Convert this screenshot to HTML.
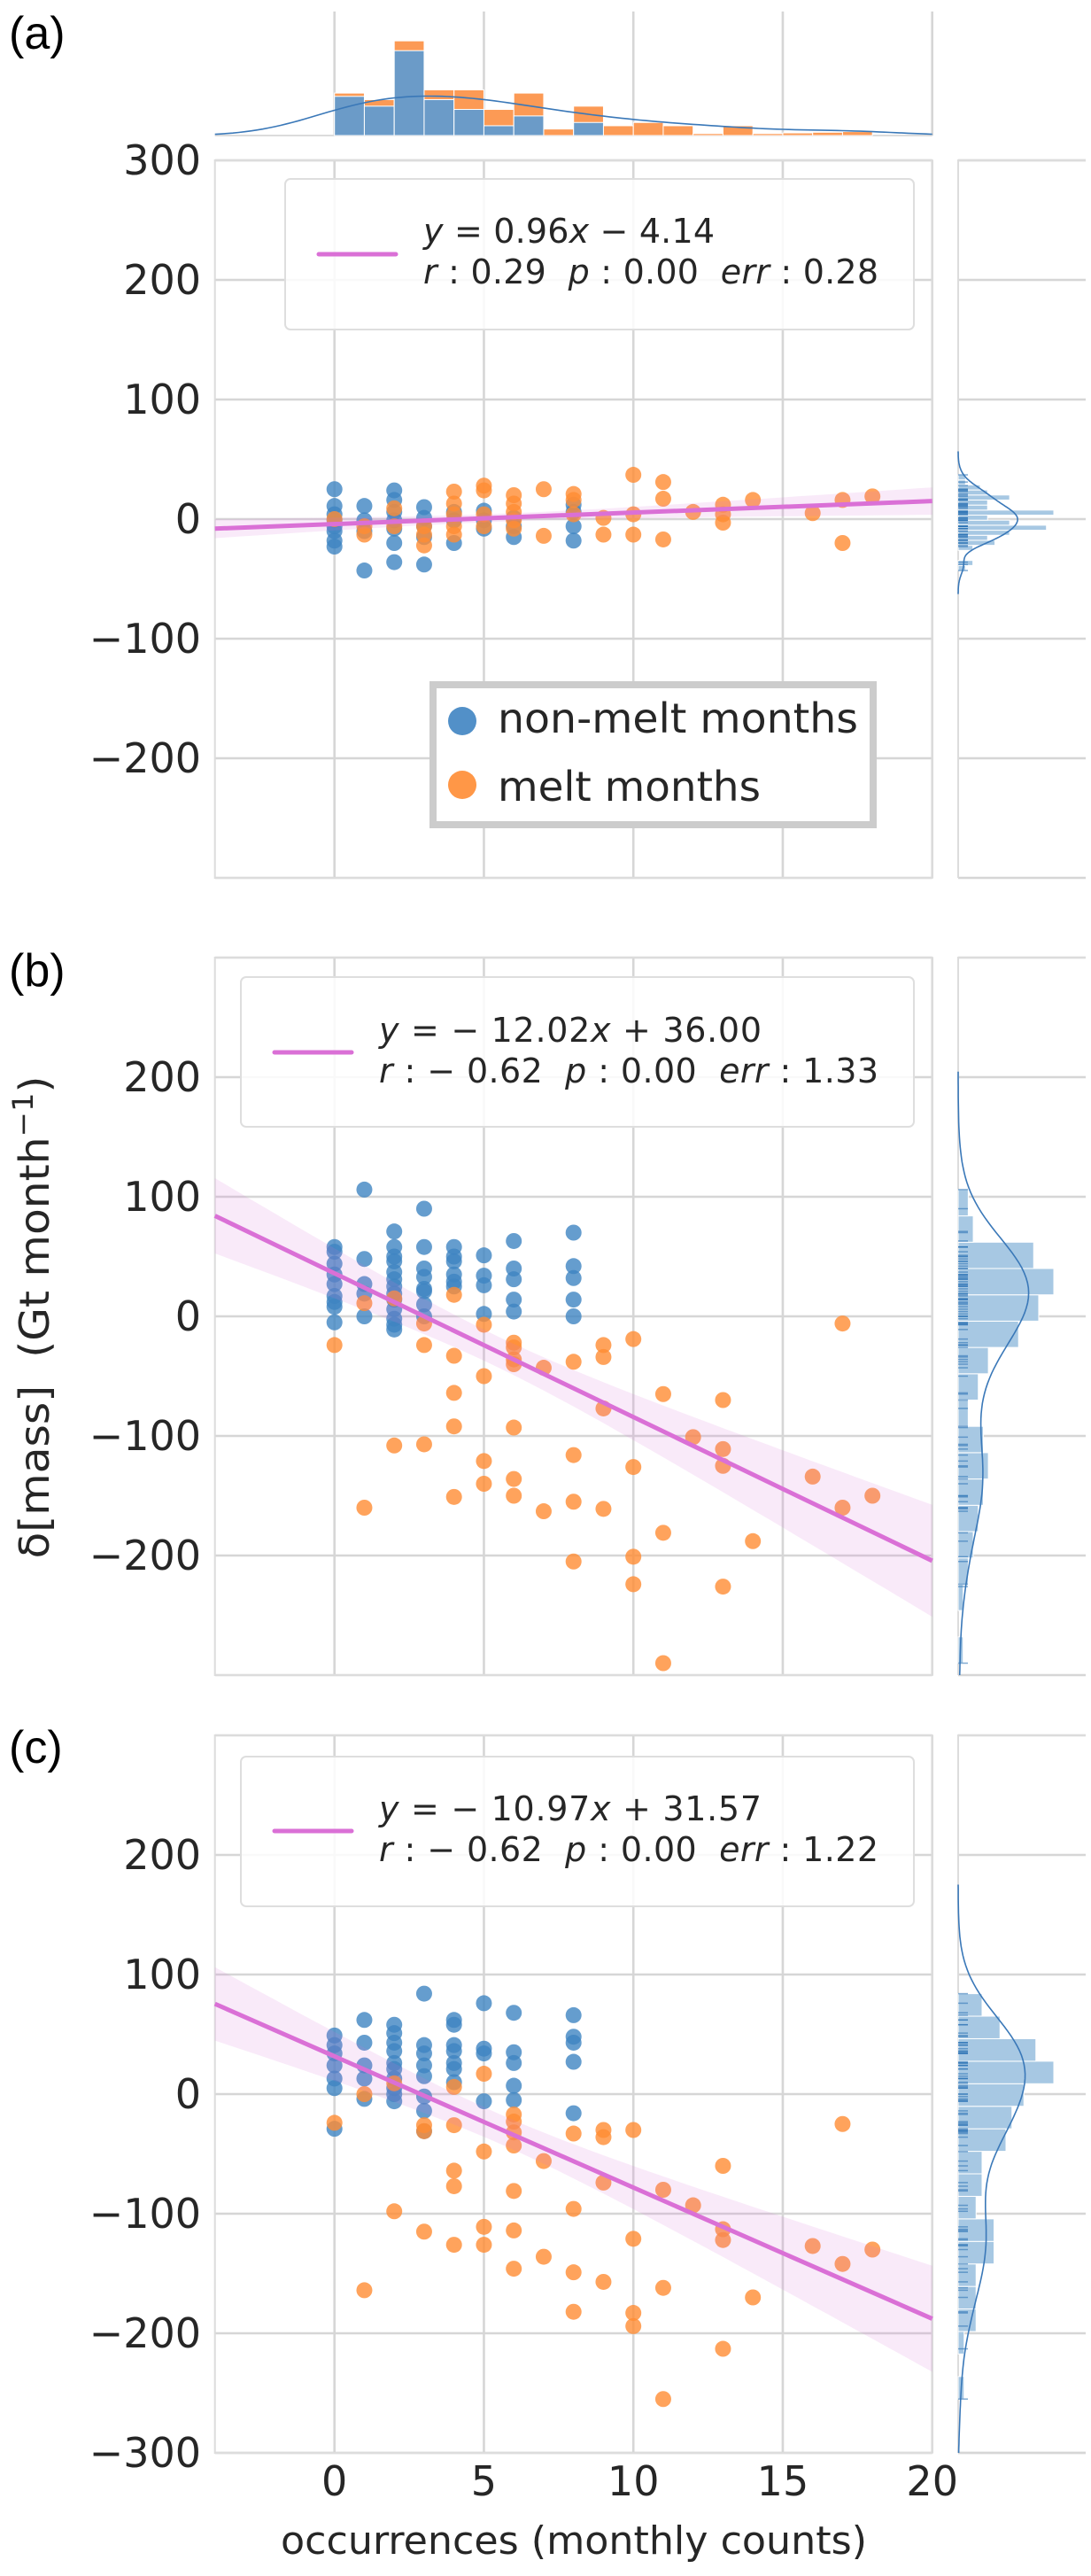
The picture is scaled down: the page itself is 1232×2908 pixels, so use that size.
<!DOCTYPE html>
<html><head><meta charset="utf-8"><style>
html,body{margin:0;padding:0;background:#fff;}
svg{display:block;font-family:"DejaVu Sans","Liberation Sans",sans-serif;}
</style></head><body>
<svg id="fig" width="1232" height="2908" viewBox="0 0 1232 2908" xmlns="http://www.w3.org/2000/svg">
<g id="layer-back"></g>
<g id="layer-marks"></g>
<g id="layer-legends">
  <g>
    <rect x="322" y="202" width="710" height="170" rx="6" fill="#fff" fill-opacity="0.85" stroke="#dedede" stroke-width="2"/>
    <line x1="360" y1="287" x2="447" y2="287" stroke="#da70d6" stroke-width="5" stroke-linecap="round"/>
    <text x="478" y="274" font-size="38" fill="#262626" textLength="329" lengthAdjust="spacing"><tspan font-style="italic">y</tspan> = 0.96<tspan font-style="italic">x</tspan> − 4.14</text>
    <text x="478" y="320" font-size="38" fill="#262626" textLength="514" lengthAdjust="spacing"><tspan font-style="italic">r</tspan> : 0.29 &#160;<tspan font-style="italic">p</tspan> : 0.00 &#160;<tspan font-style="italic">err</tspan> : 0.28</text>
  </g>
  <g>
    <rect x="489" y="773" width="497" height="158" fill="#fff" stroke="#cccccc" stroke-width="8"/>
    <circle cx="522" cy="814" r="16" fill="#3f84c2" fill-opacity="0.9"/>
    <circle cx="522" cy="886" r="16" fill="#ff8c33" fill-opacity="0.9"/>
    <text x="562" y="827" font-size="46" fill="#262626" textLength="407" lengthAdjust="spacingAndGlyphs">non-melt months</text>
    <text x="562" y="904" font-size="46" fill="#262626" textLength="297" lengthAdjust="spacingAndGlyphs">melt months</text>
  </g>
  <g>
    <rect x="272" y="1103" width="760" height="169" rx="6" fill="#fff" fill-opacity="0.85" stroke="#dedede" stroke-width="2"/>
    <line x1="310" y1="1188" x2="397" y2="1188" stroke="#da70d6" stroke-width="5" stroke-linecap="round"/>
    <text x="428" y="1176" font-size="38" fill="#262626" textLength="432" lengthAdjust="spacing"><tspan font-style="italic">y</tspan> = − 12.02<tspan font-style="italic">x</tspan> + 36.00</text>
    <text x="428" y="1222" font-size="38" fill="#262626" textLength="564" lengthAdjust="spacing"><tspan font-style="italic">r</tspan> : − 0.62 &#160;<tspan font-style="italic">p</tspan> : 0.00 &#160;<tspan font-style="italic">err</tspan> : 1.33</text>
  </g>
  <g>
    <rect x="272" y="1983" width="760" height="169" rx="6" fill="#fff" fill-opacity="0.85" stroke="#dedede" stroke-width="2"/>
    <line x1="310" y1="2067" x2="397" y2="2067" stroke="#da70d6" stroke-width="5" stroke-linecap="round"/>
    <text x="428" y="2055" font-size="38" fill="#262626" textLength="432" lengthAdjust="spacing"><tspan font-style="italic">y</tspan> = − 10.97<tspan font-style="italic">x</tspan> + 31.57</text>
    <text x="428" y="2101" font-size="38" fill="#262626" textLength="564" lengthAdjust="spacing"><tspan font-style="italic">r</tspan> : − 0.62 &#160;<tspan font-style="italic">p</tspan> : 0.00 &#160;<tspan font-style="italic">err</tspan> : 1.22</text>
  </g>
</g>
<text x="10" y="55" font-family="Liberation Sans, sans-serif" font-size="52" fill="#000">(a)</text>
<text x="10" y="1113" font-family="Liberation Sans, sans-serif" font-size="52" fill="#000">(b)</text>
<text x="10" y="1990" font-family="Liberation Sans, sans-serif" font-size="52" fill="#000">(c)</text>
<text x="648" y="2883" text-anchor="middle" font-size="44" fill="#262626" textLength="662" lengthAdjust="spacingAndGlyphs">occurrences (monthly counts)</text>
<text transform="translate(55,1487) rotate(-90)" text-anchor="middle" font-size="46" fill="#262626" textLength="545" lengthAdjust="spacingAndGlyphs">δ[mass] &#160;(Gt month<tspan font-size="32" dy="-18">−1</tspan><tspan dy="18">)</tspan></text>
</svg>
<script>
// ---------- data ----------
const xTicks = [0, 5, 10, 15, 20];
const yTicksA = [300, 200, 100, 0, -100, -200];
const yTicksB = [200, 100, 0, -100, -200];
const yTicksC = [200, 100, 0, -100, -200, -300];

const blueXs = [0, 1, 2, 3, 4, 5, 6, 8];
const orangeXs = [0, 1, 2, 3, 4, 5, 6, 7, 8, 9, 10, 11, 12, 13, 14, 16, 17, 18];

const aBlueYs = [[25,11,4,-1,-6,-10,-18,-23],[11,-1,-10,-43],[24,16,6,-1,-8,-20,-36],[10,1,-6,-15,-38],[6,-1,-20],[7,-1,-8],[1,-6,-15],[12,6,-6,-18]];
const aOrangeYs = [[0],[-6,-13],[9,-6],[-6,-13,-22],[23,13,4,-6,-13],[28,24,4,-6],[20,13,6,-1,-8],[25,-14],[21,16,4],[1,-13],[37,4,-13],[31,17,-17],[6],[12,4,-3],[16],[5],[16,-20],[19]];

const bBlueYs = [[58,54,44,35,27,17,12,8,-5],[106,48,27,19,0],[71,58,50,46,37,31,25,19,14,6,-2,-7,-11],[90,58,40,33,23,21,10,0],[58,50,46,35,29,25],[51,34,26,2],[63,40,31,14,4],[70,42,32,14,0]];
const bOrangeYs = [[-24],[11,-160],[15,-108],[-6,-24,-107],[18,-33,-64,-92,-151],[-7,-50,-121,-140],[-22,-26,-36,-40,-93,-136,-150],[-43,-163],[-38,-116,-155,-205],[-24,-34,-77,-161],[-19,-126,-201,-224],[-65,-181,-290],[-101],[-70,-111,-125,-226],[-188],[-134],[-6,-160],[-150]];

const cBlueYs = [[49,41,34,24,13,5,-29],[62,43,24,13,-4],[58,51,43,36,26,21,13,5,0,-6],[84,41,34,24,15,-2,-14,-31],[62,58,41,36,26,21,10],[76,38,34,-6],[68,35,26,7,-5],[66,48,43,27,-16]];
const cOrangeYs = [[-24],[0,-164],[9,-98],[-26,-31,-115],[6,-26,-64,-77,-126],[17,-48,-111,-126],[-17,-23,-32,-43,-81,-114,-146],[-56,-136],[-33,-96,-149,-182],[-30,-36,-74,-157],[-30,-121,-183,-194],[-80,-162,-255],[-93],[-60,-113,-122,-213],[-170],[-127],[-25,-142],[-130]];

const regSlopes = [0.96, -12.02, -10.97];
const regIntercepts = [-4.14, 36.00, 31.57];

// top marginal histogram (bins of width 1 from 0 to 18)
const topBinStarts = [0,1,2,3,4,5,6,7,8,9,10,11,12,13,14,15,16,17];
const topAllCounts = [6.5,5.5,14.5,7,7,4,6.5,1,4.5,1.5,2,1.5,0.3,1.5,0.3,0.4,0.5,0.6];
const topNonMeltCounts = [6,4.5,13,5.5,4,1.5,3,0,2,0,0,0,0,0,0,0,0,0];

// ---------- layout ----------
const X0 = 377.7, XU = 33.75, XMIN = -4, XMAX = 20;
const sx = v => X0 + v * XU;
const YU = 1.35;
const panels = [
  {id:'a', zero:586, ticks:yTicksA, blue:aBlueYs, orange:aOrangeYs, bins:19},
  {id:'b', zero:1486, ticks:yTicksB, blue:bBlueYs, orange:bOrangeYs, bins:18},
  {id:'c', zero:2364, ticks:yTicksC, blue:cBlueYs, orange:cOrangeYs, bins:18}
];
const NS = 'http://www.w3.org/2000/svg';
const back = document.getElementById('layer-back');
const marks = document.getElementById('layer-marks');
function mk(tag, attrs, parent){
  const e = document.createElementNS(NS, tag);
  for (const k in attrs) e.setAttribute(k, attrs[k]);
  parent.appendChild(e);
  return e;
}
const GRID = '#d6d6d6', BORDER = '#dcdcdc';
const L = sx(XMIN), R = sx(XMAX);
const ML = 1082, MR = 1226;

function flatten(xs, ys){
  const px = [], py = [];
  ys.forEach((arr, i) => arr.forEach(v => { px.push(xs[i]); py.push(v); }));
  return [px, py];
}
function kde(vals, at, bw){
  let s = 0;
  for (const v of vals){ const z = (at - v) / bw; s += Math.exp(-0.5 * z * z); }
  return s / (vals.length * bw * Math.sqrt(2 * Math.PI));
}
function stdev(vals){
  const m = vals.reduce((a,b)=>a+b,0)/vals.length;
  return Math.sqrt(vals.reduce((a,b)=>a+(b-m)*(b-m),0)/(vals.length-1));
}

panels.forEach((p, pi) => {
  const sy = v => p.zero - v * YU;
  const top = sy(300), bot = sy(-300);
  // gridlines
  p.ticks.concat([300, -300]).forEach(t => {
    const g = mk('line', {x1:L, x2:R, y1:sy(t), y2:sy(t), stroke:GRID, 'stroke-width':2.6}, back);
    
    
    const g2 = mk('line', {x1:ML, x2:MR, y1:sy(t), y2:sy(t), stroke:GRID, 'stroke-width':2.6}, back);
    
    
  });
  xTicks.forEach(t => {
    const g = mk('line', {x1:sx(t), x2:sx(t), y1:top, y2:bot, stroke:GRID, 'stroke-width':2.6}, back);
    
    
  });
  const fr = mk('rect', {x:L, y:top, width:R-L, height:bot-top, fill:'none', stroke:BORDER, 'stroke-width':2}, back);
  
  
  const ml = mk('path', {d:`M${ML},${bot}V${top}H${MR}`, fill:'none', stroke:BORDER, 'stroke-width':2}, back);
  
  
  // y tick labels
  p.ticks.forEach(t => {
    const tx = mk('text', {x:227, y:sy(t)+16, 'text-anchor':'end', 'font-size':46, fill:'#262626'}, back);
    
    
    tx.textContent = t < 0 ? '\u2212' + Math.abs(t) : String(t);
  });

  // data
  const [bx, by] = flatten(blueXs, p.blue);
  const [ox, oy] = flatten(orangeXs, p.orange);
  const allX = bx.concat(ox), allY = by.concat(oy);

  // scatter
  bx.forEach((x, i) => {
    const c = mk('circle', {cx:sx(x), cy:sy(by[i]), r:9, fill:'#3f84c2', 'fill-opacity':0.8}, marks);
    
    
  });
  ox.forEach((x, i) => {
    const c = mk('circle', {cx:sx(x), cy:sy(oy[i]), r:9, fill:'#ff8c33', 'fill-opacity':0.8}, marks);
    
    
  });

  // regression band + line
  const m = regSlopes[pi], b0 = regIntercepts[pi];
  const n = allX.length;
  const xm = allX.reduce((a,b)=>a+b,0)/n;
  const sxx = allX.reduce((a,b)=>a+(b-xm)*(b-xm),0);
  const sres = Math.sqrt(allX.reduce((a,x,i)=>a+Math.pow(allY[i]-(m*x+b0),2),0)/(n-2));
  let up = '', lo = [];
  for (let k = 0; k <= 48; k++){
    const x = XMIN + (XMAX - XMIN) * k / 48;
    const h = 1.98 * sres * Math.sqrt(1/n + (x-xm)*(x-xm)/sxx);
    up += (k ? 'L' : 'M') + sx(x).toFixed(1) + ',' + sy(m*x+b0+h).toFixed(1);
    lo.unshift('L' + sx(x).toFixed(1) + ',' + sy(m*x+b0-h).toFixed(1));
  }
  const band = mk('path', {d: up + lo.join('') + 'Z', fill:'#da70d6', 'fill-opacity':0.15}, marks);
  
  
  const ln = mk('line', {x1:sx(XMIN), y1:sy(m*XMIN+b0), x2:sx(XMAX), y2:sy(m*XMAX+b0), stroke:'#da70d6', 'stroke-width':5}, marks);
  
  

  // right marginal histogram (density)
  const ymin = Math.min(...allY), ymax = Math.max(...allY);
  const bw = (ymax - ymin) / p.bins;
  const counts = new Array(p.bins).fill(0);
  allY.forEach(v => { let k = Math.floor((v - ymin) / bw); if (k >= p.bins) k = p.bins - 1; counts[k]++; });
  const dens = counts.map(c => c / (n * bw));
  const dmax = Math.max(...dens);
  const wScale = 108 / dmax;
  dens.forEach((d, k) => {
    if (d <= 0) return;
    const y1 = sy(ymin + (k+1)*bw), y2 = sy(ymin + k*bw);
    const r = mk('rect', {x:ML, y:y1, width:d*wScale, height:y2-y1, fill:'#a7c8e3', stroke:'#fff', 'stroke-width':1}, marks);
    
    
  });
  // KDE
  const sd = stdev(allY);
  const h = sd * Math.pow(n, -0.2);
  let d = '';
  const lo2 = Math.max(-300, ymin - 3*h), hi2 = Math.min(300, ymax + 3*h);
  for (let k = 0; k <= 120; k++){
    const v = lo2 + (hi2 - lo2) * k / 120;
    d += (k ? 'L' : 'M') + (ML + kde(allY, v, h) * wScale).toFixed(1) + ',' + sy(v).toFixed(1);
  }
  const kd = mk('path', {d, fill:'none', stroke:'#3a78b8', 'stroke-width':1.6}, marks);
  
  
  // rug
  allY.forEach(v => {
    const rg = mk('line', {x1:ML, x2:ML+11, y1:sy(v), y2:sy(v), stroke:'#2e74b5', 'stroke-opacity':0.6, 'stroke-width':1.5}, marks);
    
    
  });

  // top marginal (panel a only)
  if (p.id === 'a'){
    const TB = 153, TT = 13, unit = 7.37;
    xTicks.forEach(t => {
      const g = mk('line', {x1:sx(t), x2:sx(t), y1:TT, y2:TB, stroke:GRID, 'stroke-width':2.6}, back);
      
      
    });
    const base = mk('line', {x1:L, x2:R, y1:TB, y2:TB, stroke:BORDER, 'stroke-width':2}, back);
    
    
    topBinStarts.forEach((s, k) => {
      const hA = topAllCounts[k] * unit;
      const r1 = mk('rect', {x:sx(s), y:TB-hA, width:XU, height:hA, fill:'#fc9a55', stroke:'#fff', 'stroke-width':1}, marks);
      
      
      const hB = topNonMeltCounts[k] * unit;
      if (hB > 0){
        const r2 = mk('rect', {x:sx(s), y:TB-hB, width:XU, height:hB, fill:'#6b9bc8', stroke:'#fff', 'stroke-width':1}, marks);
        
        
      }
    });
    const tot = topAllCounts.reduce((a,b)=>a+b,0);
    const hx = stdev(allX) * Math.pow(n, -0.2);
    let dd = '';
    for (let k = 0; k <= 120; k++){
      const v = XMIN + (XMAX - XMIN) * k / 120;
      dd += (k ? 'L' : 'M') + sx(v).toFixed(1) + ',' + (TB - kde(allX, v, hx) * tot * unit).toFixed(1);
    }
    const tk = mk('path', {d:dd, fill:'none', stroke:'#3a78b8', 'stroke-width':1.6}, marks);
    
    
  }

  // x tick labels (bottom panel only)
  if (p.id === 'c'){
    xTicks.forEach(t => {
      const tx = mk('text', {x:sx(t), y:2817, 'text-anchor':'middle', 'font-size':46, fill:'#262626'}, back);
      
      
      tx.textContent = String(t);
    });
  }
});
</script>
</body></html>
